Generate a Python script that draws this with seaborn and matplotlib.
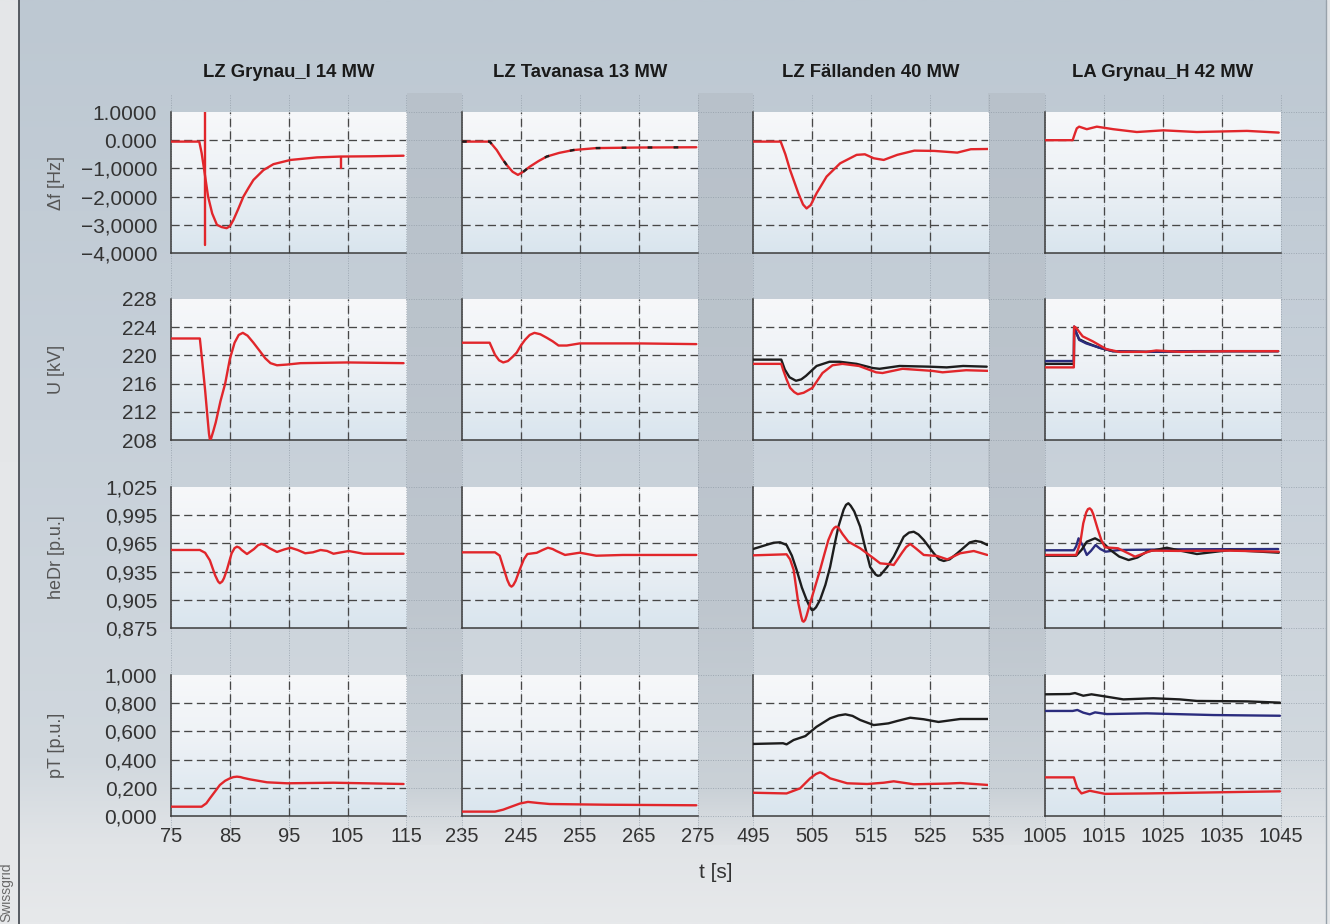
import matplotlib
matplotlib.use("Agg")
import matplotlib.pyplot as plt
import numpy as np
import seaborn as sns
from matplotlib.colors import to_rgb

# ---------------------------------------------------------------- data
titles = ["LZ Grynau_I 14 MW", "LZ Tavanasa 13 MW", "LZ Fällanden 40 MW", "LA Grynau_H 42 MW"]
row_labels = ["\u0394f [Hz]", "U [kV]", "heDr [p.u.]", "pT [p.u.]"]

xticks_cols = [[75, 85, 95, 105, 115], [235, 245, 255, 265, 275],
               [495, 505, 515, 525, 535], [1005, 1015, 1025, 1035, 1045]]
yticks_rows = [[1.0, 0.0, -1.0, -2.0, -3.0, -4.0],
               [228, 224, 220, 216, 212, 208],
               [1.025, 0.995, 0.965, 0.935, 0.905, 0.875],
               [1.0, 0.8, 0.6, 0.4, 0.2, 0.0]]
ytick_labels = [["1.0000", "0.000", "\u22121,0000", "\u22122,0000", "\u22123,0000", "\u22124,0000"],
                ["228", "224", "220", "216", "212", "208"],
                ["1,025", "0,995", "0,965", "0,935", "0,905", "0,875"],
                ["1,000", "0,800", "0,600", "0,400", "0,200", "0,000"]]

# --- LZ Grynau_I 14 MW
gi_t_df = [75, 79.8, 80.2, 80.6, 81.3, 82.0, 82.8, 83.6, 84.45, 85.0, 85.6, 86.4, 87.3, 88.2, 89.0,
           90.7, 92.4, 95.3, 99.8, 103.8, 109.0, 114.5]
gi_df = [-0.05, -0.05, -0.45, -1.0, -2.0, -2.6, -3.0, -3.08, -3.12, -3.05, -2.83, -2.45, -2.0, -1.68,
         -1.41, -1.06, -0.85, -0.70, -0.61, -0.58, -0.57, -0.55]
gi_spike_t = [80.8, 80.8]
gi_spike = [1.0, -3.72]
gi_dip_t = [103.9, 103.9]
gi_dip = [-0.58, -1.0]
gi_t_u = [75, 79.9, 80.3, 80.8, 81.2, 81.45, 81.6, 81.8, 82.2, 82.6, 83.4, 84.2, 85.0, 85.8, 86.5, 87.2,
          88.0, 89.0, 90.1, 91.0, 91.9, 93.0, 94.7, 97.0, 105.0, 114.5]
gi_u = [222.4, 222.4, 219.2, 215.0, 211.2, 208.9, 208.1, 208.2, 209.3, 210.5, 213.5, 216.0, 219.5,
        221.8, 222.9, 223.2, 222.8, 221.8, 220.6, 219.6, 218.9, 218.6, 218.7, 218.9, 219.0, 218.9]
gi_t_he = [75, 79.9, 80.8, 81.6, 82.5, 83.0, 83.3, 83.7, 84.0, 84.5, 85.3, 85.8, 86.2, 86.6, 87.0, 87.9,
           89.1, 89.8, 90.4, 91.0, 91.7, 93.0, 94.2, 95.3, 96.5, 97.8, 99.1, 100.4, 101.5, 102.6, 103.9,
           105.2, 106.4, 107.7, 114.5]
gi_he = [0.958, 0.958, 0.955, 0.947, 0.931, 0.9245, 0.9226, 0.9245, 0.928, 0.937, 0.9545, 0.9600,
         0.9615, 0.9605, 0.958, 0.9537, 0.959, 0.9632, 0.9644, 0.963, 0.960, 0.9559, 0.9585, 0.9604,
         0.958, 0.9545, 0.9555, 0.958, 0.957, 0.954, 0.9555, 0.9569, 0.9555, 0.954, 0.954]
gi_t_pt = [75, 80.2, 81.0, 81.6, 82.5, 83.3, 84.2, 85.0, 85.6, 86.2, 86.8, 87.3, 88.4, 91.3, 94.7, 102.6, 114.5]
gi_pt = [0.066, 0.066, 0.09, 0.125, 0.175, 0.22, 0.25, 0.267, 0.276, 0.279, 0.276, 0.270, 0.26, 0.239,
         0.232, 0.236, 0.227]

# --- LZ Tavanasa 13 MW
ta_t_df = [235, 239.7, 240.9, 241.8, 242.6, 243.6, 244.5, 245.4, 246.5, 248.0, 249.4, 251.5, 253.9,
           257.8, 265.0, 274.8]
ta_df = [-0.05, -0.05, -0.35, -0.65, -0.88, -1.12, -1.23, -1.12, -0.94, -0.74, -0.58, -0.45, -0.35,
         -0.28, -0.26, -0.25]
ta_t_u = [235, 239.7, 240.6, 241.3, 242.0, 242.8, 243.6, 244.3, 245.0, 245.7, 246.5, 247.3, 248.3,
          249.4, 250.4, 251.4, 252.8, 255.0, 265.0, 274.8]
ta_u = [221.8, 221.8, 220.1, 219.3, 219.0, 219.2, 219.8, 220.4, 221.4, 222.2, 222.9, 223.2, 223.0,
        222.5, 222.0, 221.4, 221.4, 221.7, 221.7, 221.6]
ta_t_he = [235, 240.6, 241.4, 242.0, 242.7, 243.1, 243.4, 243.7, 244.1, 244.8, 245.5, 246.1, 247.7,
           248.7, 249.6, 250.4, 251.0, 252.5, 255.0, 257.8, 262.3, 274.8]
ta_he = [0.9555, 0.9555, 0.952, 0.940, 0.926, 0.9205, 0.919, 0.9205, 0.925, 0.937, 0.948, 0.9537, 0.955,
         0.958, 0.9604, 0.959, 0.957, 0.9527, 0.9551, 0.9519, 0.9527, 0.9527]
ta_t_pt = [235, 240.6, 242.0, 243.1, 244.8, 246.2, 248.0, 249.9, 259.5, 274.8]
ta_pt = [0.031, 0.031, 0.045, 0.062, 0.088, 0.10, 0.092, 0.085, 0.08, 0.076]

# --- LZ Fällanden 40 MW
fa_t_df = [495, 499.7, 500.5, 501.3, 502.7, 503.5, 504.1, 504.8, 505.8, 507.5, 509.8, 512.6, 514.0,
           515.5, 517.2, 519.5, 522.4, 525.8, 529.7, 532.0, 535.4]
fa_df = [-0.05, -0.05, -0.5, -1.06, -1.88, -2.28, -2.42, -2.3, -1.88, -1.29, -0.82, -0.52, -0.50,
         -0.64, -0.70, -0.52, -0.37, -0.38, -0.44, -0.32, -0.31]
fa_t_u_blk = [495, 499.8, 500.4, 501.2, 502.3, 503.2, 504.0, 505.8, 508.0, 509.7, 512.6, 515.4, 516.5,
              519.9, 525.0, 527.9, 530.7, 534.7]
fa_u_blk = [219.4, 219.4, 218.0, 216.9, 216.4, 216.6, 217.1, 218.5, 219.1, 219.1, 218.8, 218.2, 218.1,
            218.5, 218.4, 218.3, 218.5, 218.4]
fa_t_u_red = [495, 499.8, 500.1, 500.7, 501.3, 502.0, 502.6, 503.6, 505.1, 506.8, 508.5, 510.2, 513.0,
              515.9, 517.0, 520.4, 525.5, 527.2, 531.2, 535.2]
fa_u_red = [218.8, 218.8, 218.0, 216.6, 215.4, 214.8, 214.5, 214.7, 215.4, 217.5, 218.6, 218.8, 218.5,
            217.6, 217.5, 218.1, 217.8, 217.6, 217.9, 217.8]
fa_t_he_blk = [495, 496.8, 498.5, 499.6, 500.7, 501.6, 502.4, 503.3, 504.1, 504.6, 505.0, 505.3, 505.7,
               506.4, 507.3, 508.1, 508.8, 509.5, 510.4, 510.8, 511.2, 511.6, 512.2, 513.2, 514.0,
               514.9, 515.8, 516.2, 516.6, 517.8, 518.9, 520.6, 521.5, 522.3, 523.1, 524.0, 525.7,
               526.6, 527.4, 528.4, 529.7, 531.8, 532.8, 533.8, 534.8]
fa_he_blk = [0.959, 0.9625, 0.9657, 0.9662, 0.9633, 0.952, 0.937, 0.918, 0.905, 0.898, 0.8941, 0.8945,
             0.897, 0.905, 0.921, 0.940, 0.962, 0.9828, 1.001, 1.006, 1.0077, 1.005, 0.999, 0.9828,
             0.962, 0.940, 0.932, 0.9305, 0.931, 0.940, 0.9509, 0.9721, 0.9765, 0.9774, 0.9745,
             0.9686, 0.9545, 0.948, 0.9463, 0.948, 0.9545, 0.966, 0.9676, 0.9665, 0.9633]
fa_t_he_red = [495, 500.7, 501.3, 501.9, 502.7, 503.2, 503.4, 503.6, 503.85, 504.1, 504.7, 505.5, 506.4,
               507.1, 507.8, 508.5, 508.8, 509.1, 509.5, 510.2, 511.2, 513.2, 515.5, 516.6, 518.3,
               518.9, 520.3, 521.0, 521.7, 522.6, 524.0, 526.3, 528.0, 530.2, 532.5, 534.8]
fa_he_red = [0.9523, 0.9534, 0.948, 0.937, 0.9013, 0.887, 0.8825, 0.8817, 0.8835, 0.888, 0.9013, 0.918,
             0.937, 0.953, 0.9686, 0.979, 0.9815, 0.9828, 0.9818, 0.975, 0.9668, 0.9598, 0.9491,
             0.9438, 0.9428, 0.942, 0.955, 0.961, 0.9644, 0.960, 0.9527, 0.9516, 0.948, 0.9545,
             0.9569, 0.9527]
fa_t_pt_blk = [495, 500.1, 500.7, 501.9, 503.9, 505.8, 508.1, 509.5, 510.7, 511.9, 513.2, 515.5, 516.6,
               518.0, 519.5, 521.7, 524.0, 526.5, 530.2, 534.9]
fa_pt_blk = [0.511, 0.516, 0.508, 0.539, 0.567, 0.633, 0.693, 0.713, 0.721, 0.710, 0.681, 0.645, 0.65,
             0.657, 0.674, 0.697, 0.686, 0.667, 0.688, 0.688]
fa_t_pt_red = [495, 500.7, 503.0, 504.7, 505.7, 506.4, 507.0, 508.1, 511.0, 514.4, 517.2, 518.9, 522.3,
               528.0, 530.2, 534.9]
fa_pt_red = [0.165, 0.16, 0.196, 0.267, 0.298, 0.31, 0.298, 0.267, 0.232, 0.227, 0.236, 0.246, 0.225,
             0.23, 0.234, 0.22]

# --- LA Grynau_H 42 MW
gh_t_df = [1005, 1009.7, 1010.1, 1010.4, 1010.8, 1012.1, 1013.8, 1016.6, 1020.6, 1025.1, 1030.8, 1039.3, 1044.7]
gh_df = [0.0, 0.0, 0.25, 0.42, 0.48, 0.39, 0.48, 0.39, 0.29, 0.35, 0.29, 0.33, 0.27]
gh_t_u_red = [1005, 1009.9, 1009.95, 1010.3, 1011.4, 1013.1, 1015.4, 1017.6, 1022.2, 1023.9, 1027.9, 1036.4, 1044.6]
gh_u_red = [218.3, 218.3, 224.1, 223.9, 222.7, 222.0, 220.9, 220.5, 220.5, 220.7, 220.5, 220.6, 220.6]
gh_t_u_nav = [1005, 1009.9, 1009.95, 1010.3, 1010.8, 1012.0, 1014.2, 1016.5, 1022.2, 1030.0, 1044.6]
gh_u_nav = [219.2, 219.2, 224.1, 223.3, 222.2, 221.7, 221.1, 220.6, 220.5, 220.6, 220.6]
gh_u_blk = [218.8, 218.8, 224.0, 223.2, 222.3, 221.8, 221.1, 220.6, 220.5, 220.6, 220.6]
gh_t_he_nav = [1005, 1009.9, 1010.3, 1010.7, 1011.4, 1012.1, 1012.8, 1013.6, 1014.4, 1015.3, 1017.6, 1027.7, 1044.6]
gh_he_nav = [0.9577, 0.9577, 0.962, 0.9704, 0.963, 0.9527, 0.957, 0.9633, 0.959, 0.9562, 0.958, 0.9587, 0.959]
gh_t_he_blk = [1005, 1010.3, 1011.2, 1012.1, 1013.5, 1014.8, 1016.1, 1017.6, 1019.2, 1020.7, 1022.3,
               1025.7, 1028.2, 1030.8, 1036.5, 1044.7]
gh_he_blk = [0.9519, 0.9519, 0.958, 0.9668, 0.9704, 0.966, 0.958, 0.951, 0.9473, 0.950, 0.9562, 0.9604,
             0.957, 0.9537, 0.958, 0.9551]
gh_t_he_red = [1005, 1010.3, 1011.0, 1011.5, 1012.0, 1012.3, 1012.6, 1012.9, 1013.2, 1014.0, 1014.6,
               1015.2, 1017.4, 1020.3, 1023.1, 1027.7, 1036.2, 1044.7]
gh_he_red = [0.9527, 0.9527, 0.966, 0.9864, 0.998, 1.0015, 1.0023, 1.0005, 0.996, 0.9793, 0.968, 0.9608,
             0.9598, 0.9509, 0.9573, 0.957, 0.9573, 0.9562]
gh_t_pt_blk = [1005, 1009.2, 1010.1, 1011.5, 1012.9, 1015.5, 1018.3, 1023.4, 1027.9, 1030.8, 1039.3, 1044.9]
gh_pt_blk = [0.863, 0.865, 0.872, 0.853, 0.863, 0.846, 0.827, 0.835, 0.827, 0.816, 0.813, 0.804]
gh_t_pt_nav = [1005, 1009.7, 1010.5, 1011.5, 1012.6, 1013.5, 1015.5, 1022.3, 1033.6, 1044.9]
gh_pt_nav = [0.745, 0.745, 0.752, 0.733, 0.721, 0.735, 0.723, 0.728, 0.716, 0.711]
gh_t_pt_red = [1005, 1009.9, 1010.5, 1011.2, 1012.6, 1015.2, 1022.3, 1044.9]
gh_pt_red = [0.274, 0.274, 0.196, 0.16, 0.179, 0.157, 0.16, 0.175]

RED, BLACK, NAVY = "#e1262b", "#1d1d1d", "#2b2c7e"

# (row, col) -> curves drawn in order: (t, values, colour, style)
panels = {
    (0, 0): [(gi_t_df, gi_df, RED, "-"), (gi_spike_t, gi_spike, RED, "-"), (gi_dip_t, gi_dip, RED, "-")],
    (1, 0): [(gi_t_u, gi_u, RED, "-")],
    (2, 0): [(gi_t_he, gi_he, RED, "-")],
    (3, 0): [(gi_t_pt, gi_pt, RED, "-")],
    (0, 1): [(ta_t_df, ta_df, RED, "-"), (ta_t_df, ta_df, BLACK, (0, (2, 9)))],
    (1, 1): [(ta_t_u, ta_u, RED, "-")],
    (2, 1): [(ta_t_he, ta_he, RED, "-")],
    (3, 1): [(ta_t_pt, ta_pt, RED, "-")],
    (0, 2): [(fa_t_df, fa_df, RED, "-")],
    (1, 2): [(fa_t_u_blk, fa_u_blk, BLACK, "-"), (fa_t_u_red, fa_u_red, RED, "-")],
    (2, 2): [(fa_t_he_blk, fa_he_blk, BLACK, "-"), (fa_t_he_red, fa_he_red, RED, "-")],
    (3, 2): [(fa_t_pt_blk, fa_pt_blk, BLACK, "-"), (fa_t_pt_red, fa_pt_red, RED, "-")],
    (0, 3): [(gh_t_df, gh_df, RED, "-")],
    (1, 3): [(gh_t_u_nav, gh_u_blk, BLACK, "-"), (gh_t_u_nav, gh_u_nav, NAVY, "-"),
             (gh_t_u_red, gh_u_red, RED, "-")],
    (2, 3): [(gh_t_he_nav, gh_he_nav, NAVY, "-"), (gh_t_he_blk, gh_he_blk, BLACK, "-"),
             (gh_t_he_red, gh_he_red, RED, "-")],
    (3, 3): [(gh_t_pt_blk, gh_pt_blk, BLACK, "-"), (gh_t_pt_nav, gh_pt_nav, NAVY, "-"),
             (gh_t_pt_red, gh_pt_red, RED, "-")],
}

# ---------------------------------------------------------------- style
sns.set_theme(style="white", context="notebook")
plt.rcParams["font.family"] = ["Liberation Sans", "DejaVu Sans"]

W, H = 1330, 924
fig = plt.figure(figsize=(W / 100, H / 100), dpi=100)

col_left = [171, 462, 753, 1045]
col_w = 235.5
row_top = [112, 299, 487, 675]
row_h = 141


def vgrad(ax, x0, x1, y0, y1, stops, z=0):
    ys = [s[0] for s in stops]
    rgb = np.array([to_rgb(s[1]) for s in stops])
    yy = np.linspace(y0, y1, 300)
    img = np.stack([np.interp(yy, ys, rgb[:, k]) for k in range(3)], axis=-1)[:, None, :]
    ax.imshow(img, extent=(x0, x1, y1, y0), aspect="auto", zorder=z, interpolation="bilinear")


# background layer in pixel units
bg = fig.add_axes([0, 0, 1, 1], zorder=-10)
vgrad(bg, 0, W, 0, H, [(0, "#e4e6e8"), (H, "#e6e8ea")], z=0)
vgrad(bg, 19, 1326, 0, H, [(0, "#bdc8d2"), (420, "#c7d0d9"), (760, "#d1d8de"),
                           (845, "#e1e4e7"), (H, "#e7e9eb")], z=1)
for gx0, gx1 in [(407, 462), (698, 753), (988, 1045)]:
    vgrad(bg, gx0, gx1, 93, 845, [(93, "#b8c1ca"), (600, "#bec6ce"), (790, "#cad1d7"),
                                  (845, "#dfe2e5")], z=2)
for r in range(4):
    for c in range(4):
        vgrad(bg, col_left[c], col_left[c] + col_w, row_top[r], row_top[r] + row_h,
              [(row_top[r], "#f7f8fa"), (row_top[r] + 0.45 * row_h, "#eef2f6"),
               (row_top[r] + row_h, "#d9e5ee")], z=3)
bg.axvline(19, color="#4b5057", lw=1.3, zorder=5)
bg.axvline(1326, color="#98a2ab", lw=1.0, zorder=5)
bg.set_xlim(0, W)
bg.set_ylim(H, 0)
bg.axis("off")

faint = dict(color="#8d98a3", lw=0.7, ls=(0, (1, 1.5)), alpha=0.7, clip_on=False, zorder=0.5)
grid = dict(color="#474747", lw=0.95, ls=(0, (6.2, 3.4)), zorder=1)

for r in range(4):
    for c in range(4):
        ax = fig.add_axes([col_left[c] / W, 1 - (row_top[r] + row_h) / H, col_w / W, row_h / H])
        ax.patch.set_alpha(0)

        for t, v, colr, ls in panels[(r, c)]:
            sns.lineplot(x=t, y=v, color=colr, linewidth=1.7, linestyle=ls, estimator=None,
                         sort=False, ax=ax, legend=False, zorder=3)

        xt = xticks_cols[c]
        yt = yticks_rows[r]
        ax.set_xlim(xt[0], xt[-1])
        ax.set_ylim(yt[-1], yt[0])

        # faint guide lines continuing into the gaps
        ymin = -0.33 if r < 3 else -0.1
        ymax = 1.13 if r == 0 else 1.0
        for x in xt:
            ax.axvline(x, ymin=ymin, ymax=ymax, **faint)
        xmax = 1.19 if c == 3 else 1.234
        for y in yt:
            ax.axhline(y, xmin=1.0, xmax=xmax, **faint)

        # dashed grid on interior ticks
        for x in xt[1:-1]:
            ax.axvline(x, **grid)
        for y in yt[1:-1]:
            ax.axhline(y, **grid)

        ax.set_xticks(xt)
        ax.set_yticks(yt)
        ax.tick_params(axis="y", direction="in", length=7, width=1, color="#3c3c3c",
                       pad=10, labelsize=15, labelcolor="#333333")
        ax.tick_params(axis="x", length=0, pad=8, labelsize=14.5, labelcolor="#333333")
        if c == 0:
            ax.set_yticklabels(ytick_labels[r])
            ax.set_ylabel(row_labels[r], fontsize=13, color="#555555")
            ax.yaxis.set_label_coords(-0.45, 0.5)
        else:
            ax.set_yticklabels([])
            ax.set_ylabel("")
        if r == 3:
            ax.set_xticklabels([str(x) for x in xt])
        else:
            ax.set_xticklabels([])
        ax.set_xlabel("")
        if r == 0:
            ax.set_title(titles[c], fontsize=13.3, fontweight="bold", color="#1a1a1a", pad=25)

        for side in ["top", "right"]:
            ax.spines[side].set_visible(False)
        for side in ["left", "bottom"]:
            ax.spines[side].set_color("#3c3c3c")
            ax.spines[side].set_linewidth(1.1)

fig.text(716 / W, 1 - 872 / H, "t [s]", ha="center", va="center", fontsize=15, color="#333333")
fig.text(6 / W, 1 - 892 / H, "Swissgrid", rotation=90, ha="center", va="center",
         fontsize=10, color="#6a6a6a")

fig.savefig("out.png", dpi=100)
